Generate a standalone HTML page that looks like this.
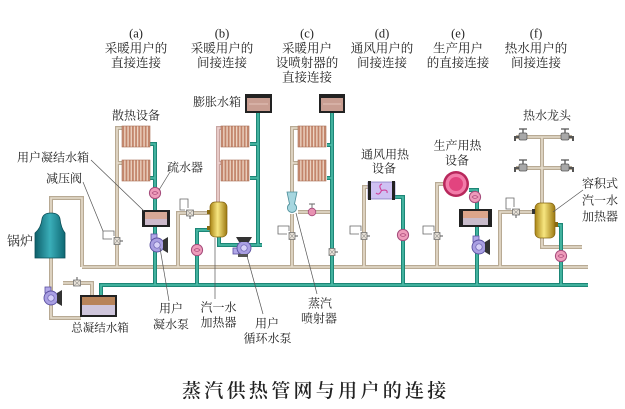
<!DOCTYPE html>
<html><head><meta charset="utf-8">
<style>
html,body{margin:0;padding:0;background:#fff;}
svg{display:block}
text{font-family:"Liberation Serif","Noto Serif CJK SC",serif;fill:#222;}
</style></head>
<body>
<svg width="625" height="409" viewBox="0 0 625 409" xmlns="http://www.w3.org/2000/svg">
<defs>
 <pattern id="fins" width="3.2" height="40" patternUnits="userSpaceOnUse">
  <rect width="3.2" height="40" fill="#efd9c8"/>
  <rect x="0.3" width="1.9" height="40" fill="#c2846a"/>
 </pattern>
 <linearGradient id="gold" x1="0" x2="1" y1="0" y2="0">
  <stop offset="0" stop-color="#a98414"/><stop offset="0.45" stop-color="#f7e680"/><stop offset="1" stop-color="#9c7810"/>
 </linearGradient>
 <linearGradient id="boil" x1="0" x2="1">
  <stop offset="0" stop-color="#0d5f6a"/><stop offset="0.5" stop-color="#3aaeb9"/><stop offset="1" stop-color="#0e6873"/>
 </linearGradient>
 <g id="steam">
  <path d="M51,216 V198 H82 V267"/>
  <path d="M82,267 H588"/>
  <path d="M117,267 V128 H123"/>
  <path d="M117,163 H123"/>
  <path d="M178,267 V213 H211"/>
  <path d="M292,267 V214"/>
  <path d="M292,193 V128 H299"/>
  <path d="M292,163 H299"/>
  <path d="M298,212 H332"/>
  <path d="M364,267 V187 H369"/>
  <path d="M437,267 V184 H444"/>
  <path d="M500,267 V212 H536"/>
  <path d="M542,204 V137"/>
  <path d="M516,137 H572"/>
  <path d="M516,168 H572"/>
  <path d="M542,238 V247 H582"/>
  <path d="M51,258 V318 H81"/>
  <path d="M63,283 H92 V296"/>
 </g>
 <g id="hot">
  <path d="M218,203 V128 H222"/>
  <path d="M218,163 H222"/>
 </g>
 <g id="teal">
  <path d="M101,296 V285 H588"/>
  <path d="M150,144 H155 V285"/>
  <path d="M150,178 H155"/>
  <path d="M211,230 H197 V285"/>
  <path d="M219,237 V245 H262"/>
  <path d="M258,245 V113"/>
  <path d="M250,144 H258"/>
  <path d="M250,178 H258"/>
  <path d="M332,113 V285"/>
  <path d="M327,145 H332"/>
  <path d="M327,178 H332"/>
  <path d="M395,197 H403 V285"/>
  <path d="M469,190 H477 V285"/>
  <path d="M555,225 H561 V285"/>
 </g>
 <g id="pump">
  <rect x="-6" y="-10" width="6" height="6" fill="#b2a8e8" stroke="#5a50a0" stroke-width=".8"/>
  <circle cx="0" cy="1" r="7" fill="#a99fe2" stroke="#5a50a0" stroke-width=".9"/>
  <circle cx="0" cy="1" r="3.2" fill="#d6d0f7" stroke="#6a60b0" stroke-width=".7"/>
  <path d="M6,-4 L11,-7 L11,9 L6,6 Z" fill="#333"/>
 </g>
 <g id="trap">
  <circle r="5.6" fill="#ee9cbb" stroke="#a44a7a" stroke-width="1"/>
  <path d="M-3,0 Q0,-3 3,0 Q0,3 -3,0" fill="none" stroke="#b0507f" stroke-width=".8"/>
 </g>
 <g id="valveV">
  <rect x="-3" y="-3.5" width="6" height="7" fill="#e8e2d8" stroke="#666" stroke-width=".7"/>
  <path d="M-3,-3.5 L3,3.5 M3,-3.5 L-3,3.5" stroke="#777" stroke-width=".5"/>
  <path d="M3,0 H6" stroke="#555" stroke-width="1"/>
 </g>
 <g id="reg">
  <path d="M-5,-2 H-14 V-10 H-3 V-5" fill="none" stroke="#666" stroke-width=".8"/>
  <use href="#valveV"/>
 </g>
 <g id="rad">
  <rect width="28" height="21" fill="url(#fins)" stroke="#a86e55" stroke-width=".6"/>
 </g>
 <g id="fau">
  <rect x="-3" y="-4" width="8" height="7" rx="1.5" fill="#a8a8a8" stroke="#555" stroke-width=".7"/>
  <path d="M1,-4 V-8 M-3,-8 H5" stroke="#555" stroke-width="1.3" fill="none"/>
  <path d="M-3,0 H-7 V4" fill="none" stroke="#555" stroke-width="2"/>
 </g>
</defs>

<!-- pipes -->
<use href="#steam" fill="none" stroke="#b8aa94" stroke-width="4"/>
<use href="#steam" fill="none" stroke="#e6dccb" stroke-width="1.6"/>
<use href="#hot" fill="none" stroke="#c9a6a2" stroke-width="4"/>
<use href="#hot" fill="none" stroke="#f0d4d2" stroke-width="1.6"/>
<use href="#teal" fill="none" stroke="#1d8677" stroke-width="4"/>
<use href="#teal" fill="none" stroke="#4cbda9" stroke-width="1.6"/>

<!-- boiler -->
<path d="M42,219 Q43,213 51,213 Q59,213 60,219 Q61,228 65,233 V258 H35 V233 Q41,228 42,219 Z" fill="url(#boil)" stroke="#0b4f58" stroke-width=".8"/>

<!-- total condensate tank -->
<rect x="80" y="295" width="37" height="22" fill="#222"/>
<rect x="82" y="297" width="33" height="8" fill="#b8845a"/>
<rect x="82" y="305" width="33" height="10" fill="#cfc6dc"/>
<use href="#valveV" transform="translate(77,283) rotate(-90)"/>
<use href="#pump" transform="translate(51,297)"/>

<!-- radiators -->
<use href="#rad" x="122" y="126"/><use href="#rad" x="122" y="160"/>
<use href="#rad" x="221" y="126"/><use href="#rad" x="221" y="160"/>
<use href="#rad" x="298" y="126"/><use href="#rad" x="298" y="160"/>

<!-- expansion tanks -->
<rect x="245" y="94" width="27" height="19" fill="#222"/>
<rect x="247" y="98" width="23" height="13" fill="#c99e92"/>
<path d="M249,104 H268" stroke="#e2c2b8" stroke-width="1"/>
<rect x="319" y="94" width="26" height="19" fill="#222"/>
<rect x="321" y="98" width="22" height="13" fill="#c99e92"/>
<path d="M323,104 H341" stroke="#e2c2b8" stroke-width="1"/>

<!-- (a) -->
<use href="#trap" x="155" y="193"/>
<rect x="142" y="210" width="28" height="17" fill="#222"/>
<rect x="145" y="212" width="22" height="7" fill="#d7a896"/>
<rect x="145" y="219" width="22" height="6" fill="#cdbacb"/>
<use href="#pump" transform="translate(157,244)"/>
<use href="#reg" transform="translate(117,241)"/>

<!-- (b) -->
<use href="#reg" transform="translate(190,213) rotate(90) scale(1,-1)"/>
<rect x="210" y="202" width="17" height="35" rx="5" fill="url(#gold)" stroke="#846410" stroke-width=".7"/>
<rect x="207" y="210" width="3" height="4" fill="#8a6a10"/>
<rect x="207" y="226" width="3" height="4" fill="#8a6a10"/>
<use href="#trap" x="197" y="250"/>
<use href="#pump" transform="translate(243,248) rotate(-90)"/>
<rect x="238" y="254" width="10" height="3" fill="#555"/>

<!-- (c) -->
<path d="M287,192 H297 L294.5,204 A4.6,4.6 0 1 1 289.5,204 Z" fill="#a6d6df" stroke="#4d8e99" stroke-width=".8"/>
<circle cx="312" cy="212" r="3.8" fill="#e892b2" stroke="#a44a7a" stroke-width=".8"/>
<path d="M312,208 V204 M309,204 H315" stroke="#666" stroke-width=".9"/>
<use href="#reg" transform="translate(292,236)"/>
<use href="#valveV" transform="translate(332,252)"/>

<!-- (d) -->
<rect x="368" y="182" width="27" height="17" fill="#cfc1f3" stroke="#6a5fb0" stroke-width=".6"/>
<rect x="368" y="181" width="3" height="19" fill="#222"/>
<rect x="392" y="181" width="3" height="19" fill="#222"/>
<g fill="none" stroke="#cf3f98" stroke-width="1.1">
 <path d="M381.5,190.5 Q378,185 382,184"/>
 <path d="M381.5,190.5 Q388,189 387,193"/>
 <path d="M381.5,190.5 Q379,196 376,193"/>
</g>
<use href="#trap" x="403" y="235"/>
<use href="#reg" transform="translate(364,236)"/>

<!-- (e) -->
<circle cx="456" cy="184" r="13" fill="#b8285c"/>
<circle cx="456" cy="184" r="10.5" fill="#f27ca9"/>
<circle cx="456" cy="184" r="7" fill="#e2447f"/>
<use href="#trap" x="475" y="197"/>
<rect x="459" y="209" width="33" height="18" fill="#222"/>
<rect x="463" y="211" width="25" height="7" fill="#dca58a"/>
<rect x="463" y="218" width="25" height="7" fill="#c9bccb"/>
<use href="#pump" transform="translate(479,246)"/>
<use href="#reg" transform="translate(437,236)"/>

<!-- (f) -->
<use href="#reg" transform="translate(516,212) rotate(90) scale(1,-1)"/>
<rect x="535" y="203" width="20" height="35" rx="5" fill="url(#gold)" stroke="#846410" stroke-width=".7"/>
<rect x="532" y="209" width="3" height="5" fill="#333"/>
<rect x="555" y="222" width="3" height="5" fill="#8a6a10"/>
<use href="#trap" x="561" y="256"/>
<use href="#fau" x="522" y="137"/><use href="#fau" x="522" y="168"/>
<use href="#fau" transform="translate(566,137) scale(-1,1)"/>
<use href="#fau" transform="translate(566,168) scale(-1,1)"/>

<!-- leader lines -->
<g stroke="#555" stroke-width=".7" fill="none">
 <path d="M91,160 L144,211"/>
 <path d="M83,182 L103,231"/>
 <path d="M170,172 L159,190"/>
 <path d="M160,248 L169,301"/>
 <path d="M215,238 V299"/>
 <path d="M247,256 L263,314"/>
 <path d="M296,213 L317,294"/>
 <path d="M583,190 L553,212"/>
</g>

<!-- headers -->
<g font-size="12.5" text-anchor="middle">
 <text x="136" y="37.5">(a)</text><text x="136" y="52.5">采暖用户的</text><text x="136" y="67">直接连接</text>
 <text x="222" y="37.5">(b)</text><text x="222" y="52.5">采暖用户的</text><text x="222" y="67">间接连接</text>
 <text x="307" y="37.5">(c)</text><text x="307" y="52.5">采暖用户</text><text x="307" y="67">设喷射器的</text><text x="307" y="81.5">直接连接</text>
 <text x="382" y="37.5">(d)</text><text x="382" y="52.5">通风用户的</text><text x="382" y="67">间接连接</text>
 <text x="458" y="37.5">(e)</text><text x="458" y="52.5">生产用户</text><text x="458" y="67">的直接连接</text>
 <text x="536" y="37.5">(f)</text><text x="536" y="52.5">热水用户的</text><text x="536" y="67">间接连接</text>
</g>

<!-- labels -->
<g font-size="12" text-anchor="middle">
 <text x="217" y="106">膨胀水箱</text>
 <text x="136" y="119.5">散热设备</text>
 <text x="53" y="161.5">用户凝结水箱</text>
 <text x="64" y="182.5">减压阀</text>
 <text x="185" y="171.5">疏水器</text>
 <text x="20" y="245.5" font-size="13">锅炉</text>
 <text x="100" y="331.5" font-size="11.5">总凝结水箱</text>
 <text x="171" y="312.5">用户</text><text x="171" y="328.5">凝水泵</text>
 <text x="218.5" y="311.5">汽一水</text><text x="218.5" y="326.5">加热器</text>
 <text x="267" y="327.5">用户</text><text x="267.5" y="342.5">循环水泵</text>
 <text x="320" y="307.5">蒸汽</text><text x="319" y="322.5">喷射器</text>
 <text x="385" y="158.5">通风用热</text><text x="384" y="172.5">设备</text>
 <text x="457.5" y="149.5">生产用热</text><text x="457" y="164.5">设备</text>
 <text x="547" y="119.5">热水龙头</text>
 <text x="600" y="187.5">容积式</text><text x="600" y="204.5">汽一水</text><text x="600" y="220.5">加热器</text>
</g>

<!-- title -->
<text x="182" y="397" font-size="19" letter-spacing="3.3" font-weight="600" fill="#2a2a2a">蒸汽供热管网与用户的连接</text>
</svg>
</body></html>
